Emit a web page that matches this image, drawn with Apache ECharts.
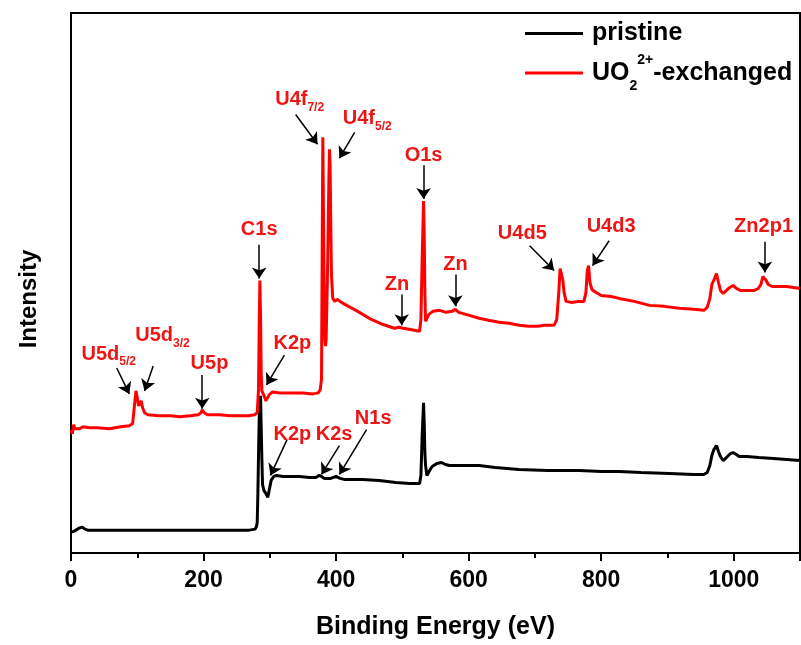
<!DOCTYPE html>
<html>
<head>
<meta charset="utf-8">
<script src="https://cdn.jsdelivr.net/npm/echarts@6.0.0/dist/echarts.min.js"></script>
<style>
  html, body { margin: 0; padding: 0; background: #fff; }
  #chart { width: 801px; height: 645px; }
</style>
</head>
<body>
<div id="chart"></div>
<script>
// XPS survey spectra: binding energy (eV) vs. intensity (a.u.)
const pristineEnergy = [0,2,5,8,12,17,21,25,43,80,118,160,194,230,269,278,280,281,282,283,284,285,286,287,288,289,291,294,297,299,302,306,310,320,330,345,360,370,374,376,378,382,392,400,403,406,412,440,465,490,511,526,528,530,532,533,534,535,537,539,542,545,552,559,565,571,590,616,640,676,720,767,800,827,860,903,940,955,960,964,967,970,974,977,980,984,989,995,999,1004,1008,1020,1038,1060,1080,1100];
const pristineIntensity = [21,20,22,23,25,26,24,23,23,23,23,23,23,23,23,24,27,31,60,100,136,150,158,126,95,69,63,60,56,58,73,77,78,77,77,77,76,76,78,79,77,75,75,77,78,75,74,74,73,71,70,70,78,120,151,130,100,88,78,78,84,87,90,91,89,88,88,88,86,84,83,83,82,82,81,80,79,79,81,88,98,104,108,102,97,93,96,100,101,99,97,97,96,95,94,93];

const exchangedEnergy = [0,2,4,6,9,13,18,28,40,58,75,88,93,96,98,100,102,104,106,108,111,116,133,150,164,180,192,196,198,201,206,224,240,254,268,277,281,283,284,285,286,287,288,290,292,294,296,299,304,315,330,350,365,373,376,378,379,380,381,382,383,384,385,387,389,390,391,392,393,395,398,402,408,416,430,450,470,488,495,498,501,510,518,526,528,530,532,533,534,535,537,540,546,556,566,575,580,585,601,616,630,646,661,676,691,705,714,729,733,736,738,740,742,744,747,755,765,774,777,779,781,783,786,790,800,815,827,850,873,895,918,940,955,960,964,967,971,974,977,980,984,989,994,999,1004,1010,1020,1031,1037,1041,1044,1046,1049,1052,1058,1070,1080,1090,1100];
const exchangedIntensity = [124,120,129,125,127,125,127,126,126,125,127,128,130,150,163,156,148,146,153,146,141,139,138,138,137,138,139,141,144,141,139,139,138,138,138,139,141,165,230,274,240,180,163,160,157,153,155,159,162,161,161,161,160,161,164,175,300,418,340,260,215,208,215,280,370,406,390,330,280,256,253,255,252,249,244,236,230,226,227,229,226,225,224,223,235,300,354,320,260,233,236,240,243,244,242,243,245,242,239,236,234,232,231,229,228,228,229,229,235,262,286,288,275,262,253,252,253,253,262,284,289,272,265,263,259,258,256,253,249,248,246,245,244,247,256,270,276,281,272,264,261,264,267,269,266,264,264,264,266,270,278,280,274,270,268,268,268,267,266];

// peak assignments: label text, subscript, label anchor (E, I), arrow tail (E, I), arrow head (E, I)
const peakNames  = ['U5d','U5d','U5p','C1s','K2p','U4f','U4f','O1s','Zn','Zn','U4d5','U4d3','Zn2p1','K2p','K2s','N1s'];
const peakSubs   = ['5/2','3/2','','','','7/2','5/2','','','','','','','','',''];
const labelE     = [57,138,209,284,334,345,447,532,492,580,681,815,1045,334,397,456];
const labelI     = [200,219,191,325,211,456,437,400,270,290,321,328,328,119,119,135];
const arrowFromE = [69,124,198,284,322,339,428,532,499,580,692,812,1047,326,405,446];
const arrowFromI = [186,188,179,310,199,441,423,390,260,280,309,314,313,114,108,124];
const arrowToE   = [88,111,198,284,295,372,405,532,499,580,729,787,1047,301,378,405];
const arrowToI   = [160,163,145,276,169,411,397,356,229,248,284,289,282,78,79,79];

const zip = (a, b) => a.map((v, i) => [v, b[i]]);

const FONT = '"Liberation Sans", Arial, sans-serif';
const RED = '#ff0000';
const LABEL_RED = '#ee1515';

const labelPoints = peakNames.map((n, i) => ({
  coord: [labelE[i], labelI[i]],
  label: {
    formatter: peakSubs[i] ? `{m|${n}}{s|${peakSubs[i]}}` : `{m|${n}}`
  }
}));

const arrows = peakNames.map((n, i) => [
  { coord: [arrowFromE[i], arrowFromI[i]] },
  { coord: [arrowToE[i], arrowToI[i]] }
]);

const legendText = {
  'pristine': '{m|pristine}',
  'UO₂²⁺-exchanged': '{u|UO}{s|2}{p|2+}{u|-exchanged}'
};

const chart = echarts.init(document.getElementById('chart'), null, { renderer: 'canvas' });

chart.setOption({
  animation: false,
  backgroundColor: '#ffffff',
  textStyle: { fontFamily: FONT },
  grid: {
    left: 71, right: 1, top: 13, bottom: 89,
    show: true, borderColor: '#000', borderWidth: 2
  },
  legend: {
    orient: 'vertical',
    left: 525, top: 21,
    padding: 0,
    itemGap: 7,
    itemWidth: 58, itemHeight: 3,
    icon: 'rect',
    data: ['pristine', 'UO₂²⁺-exchanged'],
    formatter: name => legendText[name],
    textStyle: {
      color: '#000',
      padding: [0, 0, 0, 4],
      rich: {
        m: { fontFamily: FONT, fontSize: 25, fontWeight: 'bold', color: '#000', lineHeight: 30 },
        u: { fontFamily: FONT, fontSize: 25, fontWeight: 'bold', color: '#000', lineHeight: 40 },
        s: { fontFamily: FONT, fontSize: 14, fontWeight: 'bold', color: '#000', verticalAlign: 'bottom', lineHeight: 40 },
        p: { fontFamily: FONT, fontSize: 14, fontWeight: 'bold', color: '#000', verticalAlign: 'top', lineHeight: 40 }
      }
    }
  },
  xAxis: {
    type: 'value',
    min: 0, max: 1100, interval: 200,
    name: 'Binding Energy (eV)',
    nameLocation: 'middle',
    nameGap: 62,
    nameTextStyle: { fontFamily: FONT, fontSize: 25, fontWeight: 'bold', color: '#000' },
    axisLine: { show: true, lineStyle: { color: '#000', width: 2 } },
    axisTick: { show: true, length: 8, lineStyle: { color: '#000', width: 2 } },
    minorTick: { show: true, splitNumber: 2, length: 5, lineStyle: { color: '#000', width: 2 } },
    splitLine: { show: false },
    axisLabel: {
      fontFamily: FONT, fontSize: 23, fontWeight: 'bold', color: '#000', margin: 16,
      showMaxLabel: false,
      formatter: v => String(v)
    }
  },
  yAxis: {
    type: 'value',
    min: 0, max: 543,
    name: 'Intensity',
    nameLocation: 'middle',
    nameGap: 30,
    nameTextStyle: { fontFamily: FONT, fontSize: 24, fontWeight: 'bold', color: '#000', padding: [0, 32, 0, 0] },
    axisLine: { show: true, lineStyle: { color: '#000', width: 2 } },
    axisTick: { show: false },
    axisLabel: { show: false },
    splitLine: { show: false }
  },
  series: [
    {
      name: 'pristine',
      type: 'line',
      data: zip(pristineEnergy, pristineIntensity),
      showSymbol: false,
      color: '#000',
      lineStyle: { color: '#000', width: 3 },
      z: 2
    },
    {
      name: 'UO₂²⁺-exchanged',
      type: 'line',
      data: zip(exchangedEnergy, exchangedIntensity),
      showSymbol: false,
      color: RED,
      lineStyle: { color: RED, width: 3 },
      z: 3,
      markLine: {
        silent: true,
        symbol: ['none', 'arrow'],
        symbolSize: 11,
        label: { show: false },
        itemStyle: { color: '#000' },
        lineStyle: { color: '#000', width: 1.5, type: 'solid' },
        emphasis: { disabled: true },
        data: arrows
      },
      markPoint: {
        silent: true,
        symbol: 'circle',
        symbolSize: 1,
        itemStyle: { color: 'rgba(0,0,0,0)' },
        label: {
          show: true,
          position: 'inside',
          rich: {
            m: { fontFamily: FONT, fontSize: 20, fontWeight: 'bold', color: LABEL_RED, lineHeight: 28 },
            s: { fontFamily: FONT, fontSize: 12, fontWeight: 'bold', color: LABEL_RED, verticalAlign: 'bottom', lineHeight: 28 }
          }
        },
        data: labelPoints
      }
    }
  ]
});
</script>
</body>
</html>
